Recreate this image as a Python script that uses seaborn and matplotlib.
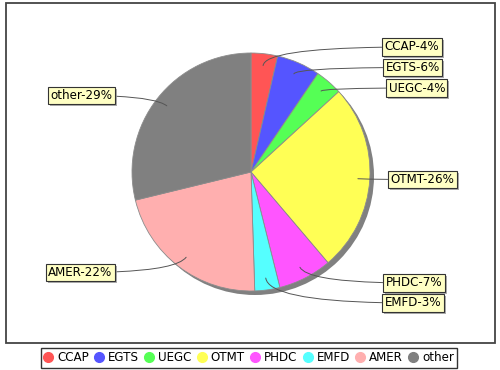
import matplotlib
matplotlib.use("Agg")
import numpy as np
import matplotlib.pyplot as plt
import seaborn as sns
from matplotlib.patches import Rectangle, Circle
from matplotlib.lines import Line2D
import matplotlib.patheffects as pe

# data (percent of total)
categories = ["CCAP", "EGTS", "UEGC", "OTMT", "PHDC", "EMFD", "AMER", "other"]
shares = [3.6, 5.9, 3.7, 25.6, 7.3, 3.4, 21.7, 28.8]
colors = ["#ff5555", "#5555ff", "#55ff55", "#ffff55", "#ff55ff", "#55ffff", "#ffafaf", "#808080"]

# label box anchor (pixel layout): x of the box edge near the pie, y of the box centre
label_x = [382, 383, 386, 388, 383, 382, 115, 115]
label_y = [47, 67.5, 88, 179.5, 283, 303, 272.5, 95.5]

sns.set_style("white")
plt.rcParams["font.family"] = ["DejaVu Sans"]
plt.rcParams["text.color"] = "black"
palette = sns.color_palette(colors)

fig = plt.figure(figsize=(5, 3.7), dpi=100)
ax = fig.add_axes([0, 0, 1, 1])

# pie geometry in pixels (y axis runs downwards)
cx, cy, r = 251, 172, 119

ax.add_patch(Circle((cx + 4, cy + 4), r, fc="#808080", ec="none", zorder=0))
wedges, _ = ax.pie(shares, colors=palette, startangle=-90, counterclock=True,
                   center=(cx, cy), radius=r, frame=True,
                   wedgeprops=dict(edgecolor="#8c8c8c", linewidth=0.6))
ax.set_xlim(0, 500)
ax.set_ylim(370, 0)
ax.set_aspect("equal")
ax.axis("off")

# outer frame
ax.add_patch(Rectangle((5.5, 2.5), 489.5, 340.5, fill=False, ec="#444444", lw=1.3))

total = sum(shares)
cum = np.cumsum([0] + shares)
for i, name in enumerate(categories):
    mid = (cum[i] + shares[i] / 2) / total * 360.0
    phi = np.radians(mid)
    ax_ = cx + 0.9 * r * np.sin(phi)
    ay_ = cy - 0.9 * r * np.cos(phi)
    right = mid < 180
    tx = label_x[i] + (2.5 if right else -2.5)
    txt = "%s-%d%%" % (name, round(shares[i]))
    ann = ax.annotate(txt, xy=(ax_, ay_), xytext=(tx, label_y[i]),
                      ha="left" if right else "right", va="center", fontsize=8.6,
                      color="black",
                      bbox=dict(boxstyle="square,pad=0.2", fc="#ffffc4", ec="#333333", lw=0.8),
                      arrowprops=dict(arrowstyle="-", color="#555555", lw=0.7,
                                      shrinkA=0, shrinkB=0,
                                      connectionstyle="angle3,angleA=0,angleB=%.1f" % (90 - mid)))
    ann.get_bbox_patch().set_path_effects([
        pe.SimplePatchShadow(offset=(1.5, -1.5), shadow_rgbFace="#999999", alpha=0.8),
        pe.Normal()])

handles = [Line2D([], [], marker="o", ls="none", markersize=7, markerfacecolor=c,
                  markeredgecolor=c) for c in palette]
leg = fig.legend(handles, categories, loc="lower center", bbox_to_anchor=(0.498, 2 / 370),
                 ncol=8, frameon=True, fancybox=False, edgecolor="black", fontsize=8.6,
                 handlelength=0.7, handletextpad=0.4, columnspacing=0.5, borderpad=0.3,
                 borderaxespad=0, labelcolor="black")
leg.get_frame().set_linewidth(1.0)

fig.savefig("out.png", dpi=100)
